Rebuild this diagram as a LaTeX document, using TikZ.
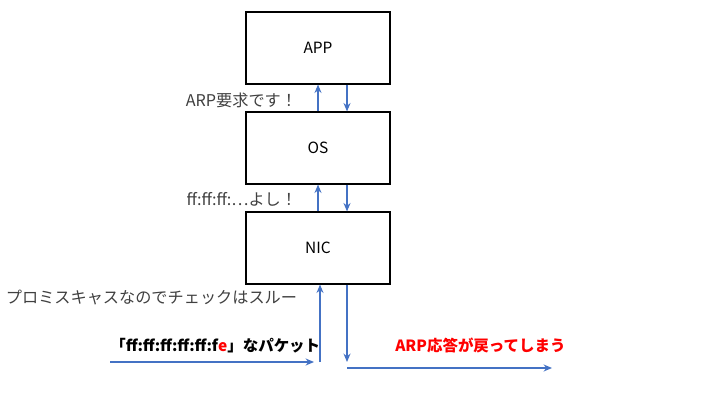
\documentclass[tikz,border=0pt]{standalone}
\usepackage{fontspec}
\setmainfont{Noto Sans CJK JP}
\usetikzlibrary{positioning,arrows.meta}
\definecolor{lineBlue}{RGB}{68,114,196}
\definecolor{noteRed}{RGB}{255,0,0}
\tikzset{
    layer/.style={draw, thick, minimum width=144*0.025cm, minimum height=72*0.025cm, font=\fontsize{11}{13}\selectfont},
    flow/.style={-{Stealth[length=6pt,width=5pt]}, lineBlue, thick},
    note/.style={font=\fontsize{11.5}{13}\selectfont, text=black!75}
}
\begin{document}
\begin{tikzpicture}[x=0.025cm, y=-0.025cm]
    \useasboundingbox (0,0) rectangle (720,411);
    \node[layer] (app) at (318,48) {APP};
    \node[layer] (os) at (318,148) {OS};
    \node[layer] (nic) at (318,248) {NIC};
    % arrows between layers
    \draw[flow] (os.north) -- (app.south);
    \draw[flow] ([xshift=0.725cm]app.south) -- ([xshift=0.725cm]os.north);
    \draw[flow] (nic.north) -- (os.south);
    \draw[flow] ([xshift=0.725cm]os.south) -- ([xshift=0.725cm]nic.north);
    \node[note, anchor=east] (req) at (302,100) {ARP要求です！};
    \node[note, anchor=east] (ok) at (302,199) {ff:ff:ff:…よし！};
    \node[note, anchor=east] (promisc) at (302,298) {プロミスキャスなのでチェックはスルー};
    % incoming packet
    \coordinate (in) at (110,362);
    \coordinate (inEnd) at (314,362);
    \coordinate (upStart) at (320,362);
    \draw[flow] (in) -- (inEnd);
    \draw[flow] (upStart) -- (upStart |- nic.south);
    \node[font=\bfseries\fontsize{11}{13}\selectfont, anchor=south west, inner xsep=0pt] (pkt) at (110,358) {「ff:ff:ff:ff:ff:f\textcolor{noteRed}{e}」なパケット};
    % reply
    \coordinate (downEnd) at (347,362);
    \coordinate (outStart) at (347,368);
    \coordinate (out) at (552,368);
    \draw[flow] (downEnd |- nic.south) -- (downEnd);
    \draw[flow] (outStart) -- (out);
    \node[font=\bfseries\fontsize{11}{13}\selectfont, text=noteRed, anchor=south west, inner xsep=0pt] (reply) at (395,358) {ARP応答が戻ってしまう};
\end{tikzpicture}
\end{document}
